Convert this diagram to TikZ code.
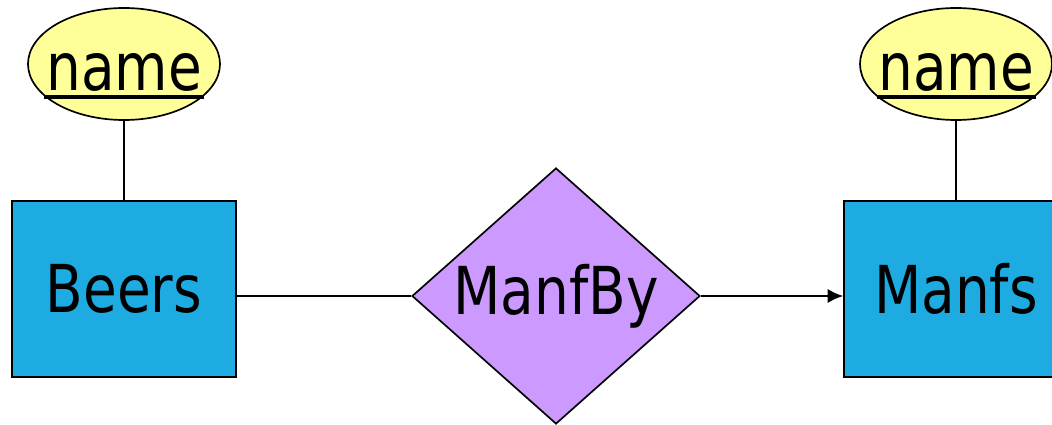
\documentclass[tikz,border=0pt]{standalone}
\usepackage{fontspec}
\setmainfont{DejaVu Sans}
\usetikzlibrary{arrows.meta,shapes.geometric}

\definecolor{attryellow}{RGB}{255,255,153}
\definecolor{entblue}{RGB}{30,171,226}
\definecolor{relpurple}{RGB}{204,153,255}

% big condensed text, as in the slide
\newcommand{\bigtxt}[1]{\fontsize{47}{50}\selectfont\scalebox{0.83}[1]{#1}}
% underlined key attribute
\newcommand{\keyattr}[1]{\setbox0\hbox{#1}\rlap{\kern-1.5pt\rule[-6.6pt]{\dimexpr\wd0+3pt}{3pt}}\box0}

\begin{document}
\begin{tikzpicture}[node distance = 5.625cm, line width=1.2pt,
    entity/.style={rectangle, draw=black, fill=entblue, minimum width=5.6cm, minimum height=4.4cm, inner sep=0pt},
    attr/.style={ellipse, draw=black, fill=attryellow, minimum width=4.8cm, minimum height=2.8cm, inner sep=0pt, text height=44pt, text depth=7pt},
    rel/.style={diamond, draw=black, fill=relpurple, aspect=1.125, minimum width=7.2cm, minimum height=6.4cm, inner sep=0pt}]
  \useasboundingbox (0,0) rectangle (26.3,10.625);

  \node[entity] at (3.1,3.4) (beers) {\bigtxt{Beers}};
  \node[attr, above of=beers] (beersname) {\makebox[0pt]{\bigtxt{\keyattr{name}}}};
  \node[rel, right of=beers, node distance=10.8cm, yshift=-0.175cm] (manfby) {\bigtxt{ManfBy}};
  \node[entity, right of=manfby, node distance=10cm, yshift=0.175cm] (manfs) {\bigtxt{Manfs}};
  \node[attr, above of=manfs] (manfsname) {\makebox[0pt]{\bigtxt{\keyattr{name}}}};

  \draw (beersname) -- (beers);
  \draw (manfsname) -- (manfs);
  \draw (manfby.west -| beers.east) -- (manfby.west);
  \draw[-{Latex[length=11pt,width=10pt]}] (manfby.east) -- (manfby.east -| manfs.west);

\end{tikzpicture}
\end{document}
